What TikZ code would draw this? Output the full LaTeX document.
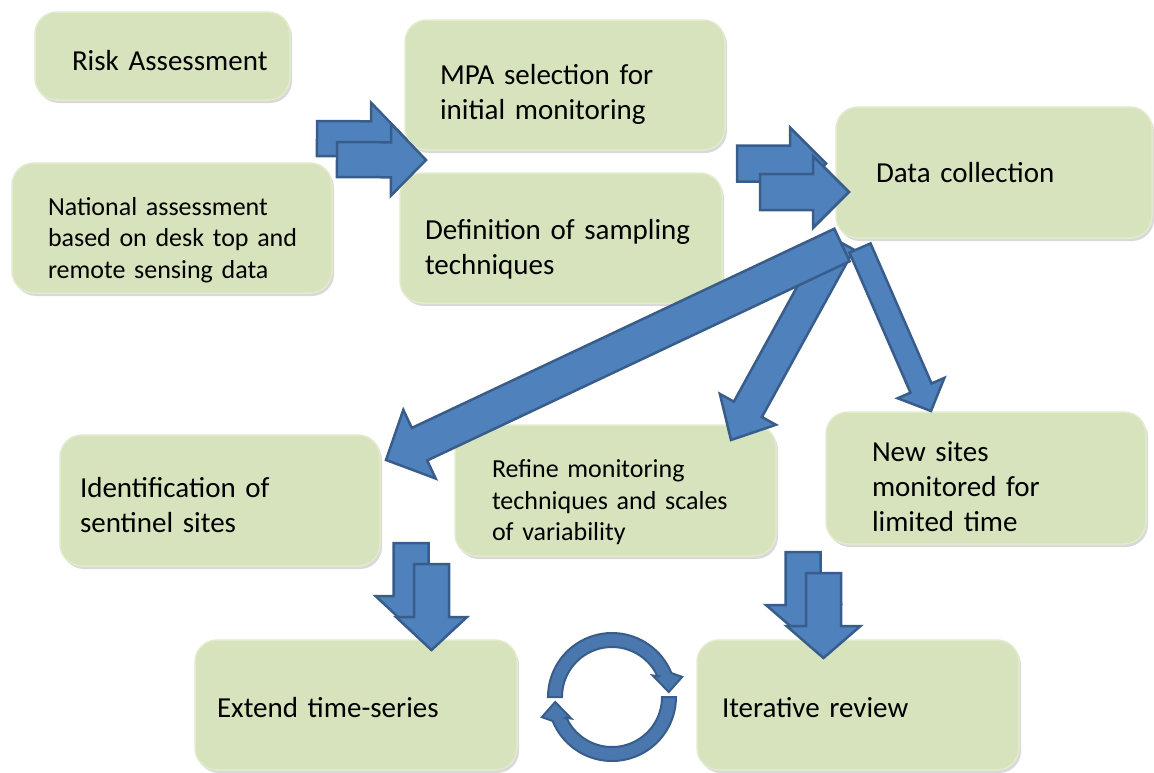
\documentclass[tikz,border=0pt]{standalone}
\usepackage{fontspec}
\setmainfont{Carlito}
\usetikzlibrary{calc,shadows}

\definecolor{boxgreen}{RGB}{214,227,188}
\definecolor{boxrim}{RGB}{226,235,206}
\definecolor{arrowblue}{RGB}{79,129,189}
\definecolor{arrowline}{RGB}{56,93,138}

\tikzstyle{stage} = [rounded corners=22pt, fill=boxgreen, draw=boxrim, line width=1.5pt, align=left, inner ysep=0pt, drop shadow={shadow xshift=2pt, shadow yshift=-3pt, opacity=0.3}, font=\fontsize{29}{35}\selectfont]
\tikzstyle{smalltext} = [font=\fontsize{26}{31.5}\selectfont]
\tikzstyle{barrow} = [fill=arrowblue, draw=arrowline, line width=2.5pt, line join=miter]
\tikzstyle{cycarrow} = [fill=arrowblue!92!black, draw=arrowline, line width=2pt, line join=miter]
\tikzset{textdown/.style={execute at begin node={\rule{0pt}{#1}}}}

\newcommand\blockarrow[5]{%
  \path[barrow] let \p1=(#1), \p2=(#2), \n1={atan2(\y2-\y1,\x2-\x1)}, \n2={veclen(\x2-\x1,\y2-\y1)} in
    [shift={(\p1)}, rotate=\n1]
    (0pt,#3pt) -- ({\n2-#5pt},#3pt) -- ({\n2-#5pt},#4pt) -- (\n2,0pt)
    -- ({\n2-#5pt},-#4pt) -- ({\n2-#5pt},-#3pt) -- (0pt,-#3pt) -- cycle;}

\begin{document}
\begin{tikzpicture}[x=1pt, y=-1pt]
        \useasboundingbox (0,0) rectangle (1154,772);

        \node[stage, textdown=30pt, minimum width=255pt, minimum height=88pt, text width=181pt, inner xsep=37pt] (risk) at (162.5,56) {\mbox{Risk Assessment}};
        \node[stage, textdown=38pt, minimum width=320pt, minimum height=130pt, text width=250pt, inner xsep=35pt] (mpa) at (565,85) {MPA selection for\\initial monitoring};
        \node[stage, smalltext, textdown=42pt, minimum width=320pt, minimum height=130pt, text width=248pt, inner xsep=36pt] (natl) at (172,228) {National assessment\\\mbox{based on desk top and}\\remote sensing data};
        \node[stage, textdown=42pt, minimum width=322pt, minimum height=130pt, text width=272pt, inner xsep=25pt] (defn) at (561,238) {Definition of sampling\\techniques};
        \node[stage, minimum width=316pt, minimum height=131pt, text width=236pt, inner xsep=40pt] (data) at (994,172.5) {Data collection};
        \node[stage, textdown=30pt, minimum width=320pt, minimum height=131pt, text width=280pt, inner xsep=20pt] (ident) at (220,500.5) {Identification of\\sentinel sites};
        \node[stage, smalltext, textdown=42pt, minimum width=321pt, minimum height=131pt, text width=247pt, inner xsep=37pt] (refine) at (615.5,490.5) {Refine monitoring\\techniques and scales\\of variability};
        \node[stage, textdown=38pt, minimum width=320pt, minimum height=132pt, text width=228pt, inner xsep=46pt] (newsites) at (986,478) {New sites\\monitored for\\limited time};
        \node[stage, textdown=26pt, minimum width=322pt, minimum height=130pt, text width=278pt, inner xsep=22pt] (extend) at (356,705) {Extend time-series};
        \node[stage, textdown=26pt, minimum width=322pt, minimum height=130pt, text width=272pt, inner xsep=25pt] (iter) at (858,705) {Iterative review};

        \coordinate (natlmpa-b) at (317,138.5);  \coordinate (natlmpa-be) at (406,139);
        \coordinate (natlmpa-f) at (337,159.5);  \coordinate (natlmpa-fe) at (426,160);
        \coordinate (mpadata-b) at (737,163.5);  \coordinate (mpadata-be) at (826,163.5);
        \coordinate (mpadata-f) at (760,192);    \coordinate (mpadata-fe) at (849,192);
        \coordinate (datarefine) at (840,242);   \coordinate (datarefine-e) at (731,440);
        \coordinate (dataident) at (842,245);    \coordinate (dataident-e) at (386,460);
        \coordinate (datanew) at (860,248);      \coordinate (datanew-e) at (931,411);
        \coordinate (identext-b) at (411,543);   \coordinate (identext-be) at (411,629);
        \coordinate (identext-f) at (431.5,564); \coordinate (identext-fe) at (431.5,650);
        \coordinate (refiter-b) at (803,552);    \coordinate (refiter-be) at (803,637);
        \coordinate (refiter-f) at (823.5,573);  \coordinate (refiter-fe) at (823.5,658);
        \coordinate (cyc) at (612,697);

        \blockarrow{natlmpa-b}{natlmpa-be}{17.5}{36}{35}
        \blockarrow{natlmpa-f}{natlmpa-fe}{17.5}{36}{35}
        \blockarrow{mpadata-b}{mpadata-be}{18}{36}{36}
        \blockarrow{mpadata-f}{mpadata-fe}{18}{36}{36}
        \blockarrow{datarefine}{datarefine-e}{16}{32}{35}
        \blockarrow{dataident}{dataident-e}{18}{38}{37}
        \blockarrow{datanew}{datanew-e}{11.5}{25.5}{25}
        \blockarrow{identext-b}{identext-be}{17.5}{35.5}{33}
        \blockarrow{identext-f}{identext-fe}{17.5}{35.5}{33}
        \blockarrow{refiter-b}{refiter-be}{17.5}{37}{32}
        \blockarrow{refiter-f}{refiter-fe}{17.5}{37}{32}

        \begin{scope}[shift={(cyc)}]
            \path[cycarrow] plot[domain=180:338, samples=40] (\x:64) -- (344:73) -- (355:57) -- (332:46) -- (336:51)
                -- plot[domain=336:180, samples=40] (\x:50) -- cycle;
        \end{scope}
        \begin{scope}[shift={(cyc)}, rotate=180]
            \path[cycarrow] plot[domain=180:338, samples=40] (\x:64) -- (344:73) -- (355:57) -- (332:46) -- (336:51)
                -- plot[domain=336:180, samples=40] (\x:50) -- cycle;
        \end{scope}
\end{tikzpicture}
\end{document}
